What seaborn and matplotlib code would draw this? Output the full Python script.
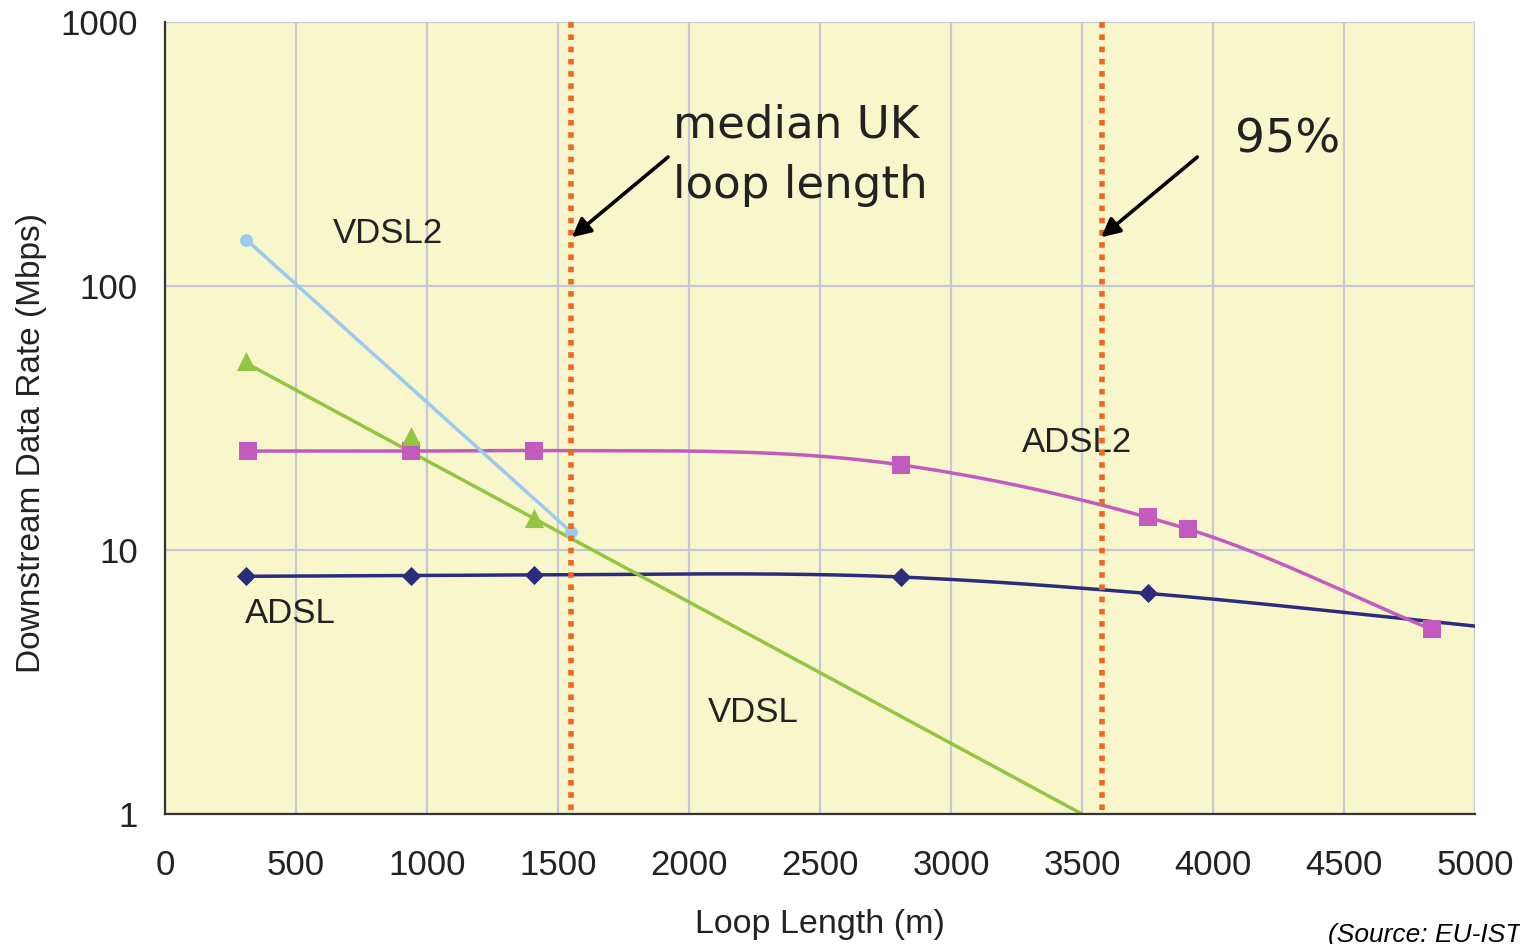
import numpy as np
import matplotlib
matplotlib.use("Agg")
import matplotlib.pyplot as plt
from matplotlib.ticker import NullLocator
import seaborn as sns

# ---------------- data ----------------
adsl_x = [310, 940, 1410, 2810, 3750, 5000]
adsl_y = [7.95, 8.0, 8.05, 7.9, 6.85, 5.15]
adsl_marked = [0, 1, 2, 3, 4]          # points that carry a marker

adsl2_x = [315, 940, 1410, 2810, 3750, 3905, 4835]
adsl2_y = [23.7, 23.7, 23.8, 21.0, 13.3, 12.0, 5.0]

vdsl_x = [310, 940, 1410]
vdsl_y = [52.0, 27.0, 13.2]
vdsl_trend_x = [310, 3500]
vdsl_trend_y = [51.0, 1.0]

vdsl2_x = [310, 1550]
vdsl2_y = [150.0, 11.7]

loop_marks_x = [1550, 3575]

x_ticks = [0, 500, 1000, 1500, 2000, 2500, 3000, 3500, 4000, 4500, 5000]
y_ticks = [1, 10, 100, 1000]
y_tick_labels = ["1", "10", "100", "1000"]

# ---------------- style ----------------
sns.set_theme(style="white")
plt.rcParams["font.family"] = ["Liberation Sans", "DejaVu Sans"]

BG = "#F8F7CC"
GRID = "#C6C6D6"
C_VDSL2 = "#9ACAEF"
C_VDSL = "#93C640"
C_ADSL2 = "#C25BBD"
C_ADSL = "#2C2C7C"
C_ORANGE = "#F26522"
TXT = "#222222"


def smooth_curve(xs, ys, n=40):
    """Cubic Hermite curve through the points in (x, log10 y) space."""
    x = np.asarray(xs, float)
    ly = np.log10(np.asarray(ys, float))
    h = np.diff(x)
    d = np.diff(ly) / h
    m = np.empty_like(x)
    m[0], m[-1] = d[0], d[-1]
    for i in range(1, len(x) - 1):
        m[i] = (h[i] * d[i - 1] + h[i - 1] * d[i]) / (h[i - 1] + h[i])
    out_x, out_y = [], []
    for i in range(len(x) - 1):
        t = np.linspace(0, 1, n)
        h00 = 2 * t**3 - 3 * t**2 + 1
        h10 = t**3 - 2 * t**2 + t
        h01 = -2 * t**3 + 3 * t**2
        h11 = t**3 - t**2
        yy = h00 * ly[i] + h10 * h[i] * m[i] + h01 * ly[i + 1] + h11 * h[i] * m[i + 1]
        xx = x[i] + t * h[i]
        if i > 0:
            xx, yy = xx[1:], yy[1:]
        out_x.extend(xx)
        out_y.extend(yy)
    return np.array(out_x), 10 ** np.array(out_y)


fig = plt.figure(figsize=(15.2, 9.44), dpi=100)
fig.patch.set_facecolor("white")
ax = fig.add_axes([165 / 1520, 1 - 814 / 944, 1310 / 1520, 792 / 944])
ax.set_facecolor(BG)
ax.set_yscale("log")

# ---------------- series ----------------
sx, sy = smooth_curve(adsl_x, adsl_y)
sns.lineplot(x=sx, y=sy, ax=ax, color=C_ADSL, linewidth=2.5, sort=False, estimator=None, zorder=3)
sns.scatterplot(x=[adsl_x[i] for i in adsl_marked], y=[adsl_y[i] for i in adsl_marked],
                ax=ax, marker="D", s=95, color=C_ADSL, edgecolor=C_ADSL, linewidth=0, zorder=4)

sx, sy = smooth_curve(adsl2_x, adsl2_y)
sns.lineplot(x=sx, y=sy, ax=ax, color=C_ADSL2, linewidth=2.5, sort=False, estimator=None, zorder=3)
sns.scatterplot(x=adsl2_x, y=adsl2_y, ax=ax, marker="s", s=150, color=C_ADSL2,
                edgecolor=C_ADSL2, linewidth=0, zorder=4)

sns.lineplot(x=vdsl_trend_x, y=vdsl_trend_y, ax=ax, color=C_VDSL, linewidth=2.5, sort=False,
             estimator=None, zorder=3)
sns.scatterplot(x=vdsl_x, y=vdsl_y, ax=ax, marker="^", s=190, color=C_VDSL,
                edgecolor=C_VDSL, linewidth=0, zorder=4)

sns.lineplot(x=vdsl2_x, y=vdsl2_y, ax=ax, color=C_VDSL2, linewidth=2.5, sort=False,
             estimator=None, zorder=3)
sns.scatterplot(x=vdsl2_x, y=vdsl2_y, ax=ax, marker="o", s=85, color=C_VDSL2,
                edgecolor=C_VDSL2, linewidth=0, zorder=4)

for xv in loop_marks_x:
    ax.axvline(xv, color=C_ORANGE, linewidth=4.0, linestyle=(0, (1, 1.2)),
               ymin=0.005, ymax=1.0, zorder=6)

# ---------------- axes ----------------
ax.set_xlim(0, 5000)
ax.set_ylim(1, 1000)
ax.set_xticks(x_ticks)
ax.set_xticklabels([str(v) for v in x_ticks])
ax.set_yticks(y_ticks)
ax.set_yticklabels(y_tick_labels)
ax.yaxis.set_minor_locator(NullLocator())

ax.grid(True, which="major", color=GRID, linewidth=1.6)
ax.set_axisbelow(True)
for side in ("top", "right"):
    ax.spines[side].set_visible(False)
for side in ("left", "bottom"):
    ax.spines[side].set_color("#333333")
    ax.spines[side].set_linewidth(1.6)
    ax.spines[side].set_zorder(7)

ax.tick_params(axis="both", which="major", direction="out", length=8.5, width=1.5,
               color="#333333", labelsize=25, labelcolor=TXT)
ax.tick_params(axis="x", pad=17)
ax.tick_params(axis="y", pad=11)

ax.set_xlabel("Loop Length (m)", fontsize=24.5, color=TXT)
ax.xaxis.set_label_coords(0.5, -0.12)
ax.set_ylabel("Downstream Data Rate (Mbps)", fontsize=24, color=TXT)
ax.yaxis.set_label_coords(-0.09, 0.468)

# ---------------- labels & annotations ----------------
ax.text(641, 145, "VDSL2", fontsize=25, color=TXT, ha="left", va="baseline")
ax.text(305, 5.29, "ADSL", fontsize=25, color=TXT, ha="left", va="baseline")
ax.text(3271, 23.5, "ADSL2", fontsize=25, color=TXT, ha="left", va="baseline", zorder=2)
ax.text(2073, 2.23, "VDSL", fontsize=25, color=TXT, ha="left", va="baseline")

ax.text(1939, 366, "median UK", fontsize=32.5, color=TXT, ha="left", va="baseline",
        family="DejaVu Sans")
ax.text(1939, 215, "loop length", fontsize=32.5, color=TXT, ha="left", va="baseline",
        family="DejaVu Sans")
ax.text(4084, 319, "95%", fontsize=34, color=TXT, ha="left", va="baseline",
        family="DejaVu Sans")

arrow_props = dict(arrowstyle="-|>", color="black", linewidth=2.6, mutation_scale=28,
                   shrinkA=0, shrinkB=0)
ax.annotate("", xy=(1553, 153), xytext=(1920, 308), arrowprops=arrow_props, zorder=8)
ax.annotate("", xy=(3573, 153), xytext=(3940, 308), arrowprops=arrow_props, zorder=8)

fig.text(1328 / 1520, 2 / 944, "(Source: EU-IST", fontsize=19, style="italic",
         color="black", ha="left", va="baseline")

fig.savefig("out.png", dpi=100, facecolor="white")
